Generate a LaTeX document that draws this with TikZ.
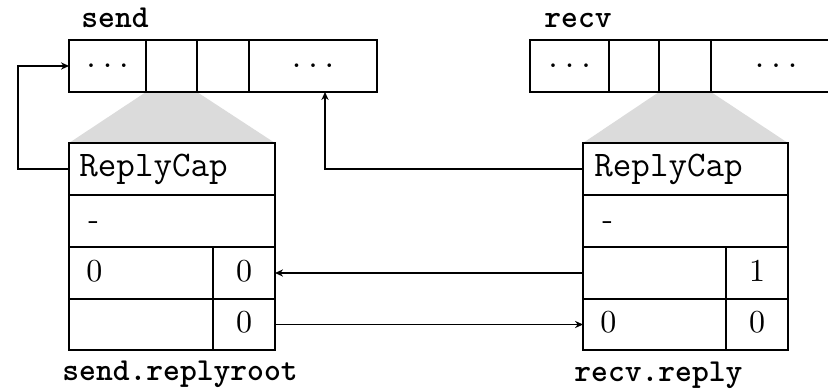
\documentclass[tikz,border=0pt]{standalone}
\usepackage{fontspec}
\newfontfamily\numfont{lmroman10-regular}[Extension=.otf]
\usetikzlibrary{arrows.meta,calc,backgrounds}
% one rectangular cell: name, x1, y1, x2, y2, text
\newcommand\mcell[6]{%
  \node[cell, anchor=north west,
        minimum width={(#4-#2)*0.5pt}, minimum height={(#5-#3)*0.5pt}]
        (#1) at (#2,#3) {#6};}
\begin{document}
\begin{tikzpicture}[x=0.5pt,y=-0.5pt,
  cell/.style={draw, line width=1pt, rectangle, inner sep=0pt, outer sep=0pt,
               font=\ttfamily\fontsize{16}{18}\selectfont},
  tt/.style={font=\ttfamily\fontsize{18}{21}\selectfont, inner sep=0pt, anchor=base west},
  num/.style={font=\numfont\fontsize{16}{19}\selectfont, inner sep=0pt},
  lbl/.style={font=\ttfamily\bfseries\fontsize{16}{18}\selectfont, inner sep=0pt, anchor=base west},
  arr/.style={line width=0.9pt, -{Stealth[length=4pt,width=3.6pt]}},
  zoomfill/.style={fill=black!14}]
\clip (0,0) rectangle (828,389);

% capability arrays
\mcell{s1}{69}{40}{146}{92}{...}
\mcell{s2}{146}{40}{197}{92}{}
\mcell{s3}{197}{40}{249}{92}{}
\mcell{s4}{249}{40}{377}{92}{...}
\mcell{r1}{530}{40}{609}{92}{...}
\mcell{r2}{609}{40}{659}{92}{}
\mcell{r3}{659}{40}{711}{92}{}
\mcell{r4}{711}{40}{841}{92}{...}
\node[lbl] (lsend) at (81,28) {send};
\node[lbl] (lrecv) at (544,28) {recv};

% send.replyroot slot
\mcell{sA}{69}{143}{275}{195}{}
\mcell{sB}{69}{195}{275}{247}{}
\mcell{sC1}{69}{247}{213}{299}{}
\mcell{sC2}{213}{247}{275}{299}{}
\mcell{sD1}{69}{299}{213}{350}{}
\mcell{sD2}{213}{299}{275}{350}{}
\node[tt] (tsA) at ($(sA.west)+(10,8)$) {ReplyCap};
\node[num, anchor=base west] (tsB) at ($(sB.west)+(19,9)$) {-};
\node[num, anchor=base west] (tsC1) at ($(sC1.west)+(17,8)$) {0};
\node[num, anchor=base] (tsC2) at ($(sC2.center)+(0,8)$) {0};
\node[num, anchor=base] (tsD2) at ($(sD2.center)+(0,8)$) {0};
\node[lbl] (lsroot) at (62,380) {send.replyroot};

% recv.reply slot
\mcell{rA}{583}{143}{788}{195}{}
\mcell{rB}{583}{195}{788}{247}{}
\mcell{rC1}{583}{247}{726}{299}{}
\mcell{rC2}{726}{247}{788}{299}{}
\mcell{rD1}{583}{299}{726}{350}{}
\mcell{rD2}{726}{299}{788}{350}{}
\node[tt] (trA) at ($(rA.west)+(11,8)$) {ReplyCap};
\node[num, anchor=base west] (trB) at ($(rB.west)+(19,9)$) {-};
\node[num, anchor=base] (trC2) at ($(rC2.center)+(0,8)$) {1};
\node[num, anchor=base west] (trD1) at ($(rD1.west)+(17,8)$) {0};
\node[num, anchor=base] (trD2) at ($(rD2.center)+(0,8)$) {0};
\node[lbl] (lrreply) at (574,381) {recv.reply};

% magnified slots
\begin{scope}[on background layer]
  \fill[zoomfill] (s2.south west) -- (s2.south east) -- (sA.north east) -- (sA.north west) -- cycle;
  \fill[zoomfill] (r3.south west) -- (r3.south east) -- (rA.north east) -- (rA.north west) -- cycle;
\end{scope}

% links
\draw[arr] (sA.west) -- ++(-51,0) |- (s1.west);
\draw[arr] (rA.west) -| ([xshift=6pt]s4.south);
\draw[arr] (rC1.west) -- (sC2.east);
\draw[arr] (sD2.east) -- (rD1.west);
\end{tikzpicture}
\end{document}
